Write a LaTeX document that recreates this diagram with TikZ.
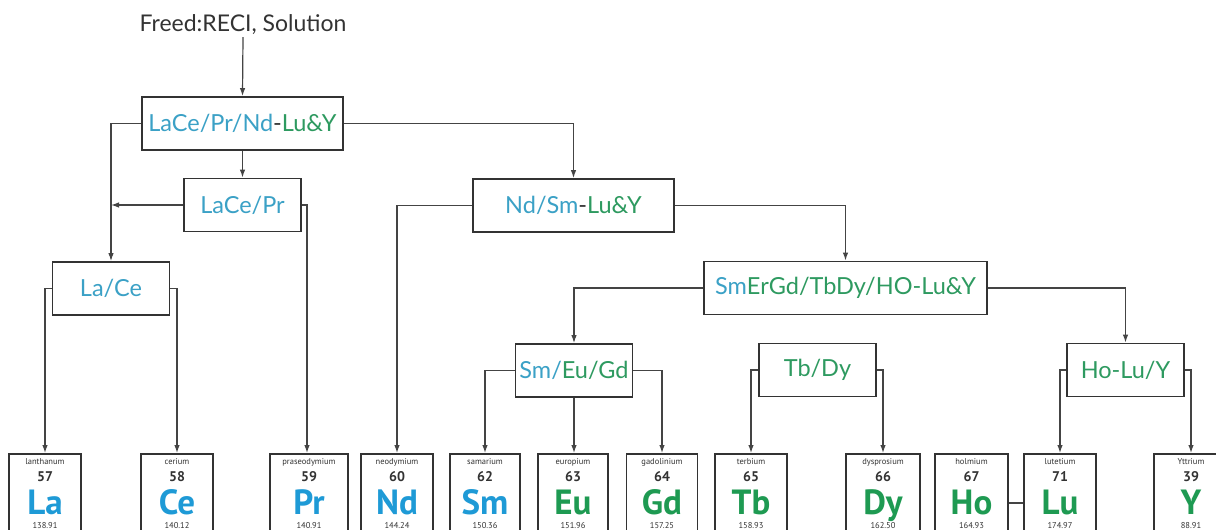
\documentclass[tikz,border=0pt]{standalone}
\usepackage{fontspec}
\setmainfont{Lato}
\newfontfamily\elfont{PT Sans}
\usetikzlibrary{arrows.meta}
\definecolor{eblue}{HTML}{1E9AD6}
\definecolor{egreen}{HTML}{1E9A52}
\definecolor{lblue}{HTML}{3BA1C6}
\definecolor{lgreen}{HTML}{2E9A60}
\definecolor{edge}{HTML}{333333}
\definecolor{wire}{HTML}{444444}
\newcommand\elem[8]{%
  \node[elbox,minimum width=#3pt] (#1) at (#2,453) {};
  \node[elname] at ([yshift=-9pt]#1.north) {#4};
  \node[elnum] at ([yshift=-24pt]#1.north) {#5};
  \node[elsym,text=#8] at ([yshift=-61pt]#1.north) {#6};
  \node[elwt] at ([yshift=-72.5pt]#1.north) {#7};
}
\begin{document}
\begin{tikzpicture}[x=1pt,y=-1pt,
  conn/.style={draw=wire,line width=1.2pt},
  arr/.style={conn,-{Latex[length=8pt,width=5.5pt]}},
  sepbox/.style={draw=edge,line width=1.8pt,fill=white,inner sep=0pt,minimum height=53pt,font=\fontsize{23.5}{26}\selectfont},
  smallbox/.style={sepbox,minimum width=117pt},
  elbox/.style={draw=edge,line width=1.8pt,minimum height=100pt,anchor=north,inner sep=0pt},
  elname/.style={inner sep=0pt,text=edge,font=\elfont\fontsize{8.5}{9}\selectfont},
  elnum/.style={inner sep=0pt,text=edge,font=\elfont\bfseries\fontsize{14}{15}\selectfont},
  elsym/.style={inner sep=0pt,anchor=base,font=\elfont\bfseries\fontsize{35}{38}\selectfont},
  elwt/.style={inner sep=0pt,text=edge,font=\elfont\fontsize{8.5}{9}\selectfont},
 ]
\useasboundingbox (0,0) rectangle (1216,530);
\clip (0,0) rectangle (1216,530);
\fill[white] (0,0) rectangle (1216,530);

% title and separation boxes
\node[inner sep=2pt,text=edge,font=\fontsize{23}{26}\selectfont] (feed) at (243,25) {Freed:RECI, Solution};
\node[sepbox,minimum width=201pt] (b1) at (242.5,123.5) {\textcolor{lblue}{LaCe/Pr/Nd}\textcolor{edge}{-}\textcolor{lgreen}{Lu\&Y}};
\node[smallbox] (lacepr) at (242.5,205) {\textcolor{lblue}{LaCe/Pr}};
\node[smallbox] (lace) at (111,288.5) {\textcolor{lblue}{La/Ce}};
\node[sepbox,minimum width=201pt] (ndsm) at (573.5,205.5) {\textcolor{lblue}{Nd/Sm}\textcolor{edge}{-}\textcolor{lgreen}{Lu\&Y}};
\node[sepbox,minimum width=283pt] (smer) at (845.5,288) {\textcolor{lblue}{Sm}\textcolor{lgreen}{ErGd/TbDy/HO-Lu\&Y}};
\node[smallbox] (seg) at (574,370.5) {\textcolor{lblue}{Sm/}\textcolor{lgreen}{Eu/Gd}};
\node[smallbox] (tbdy) at (817.5,370) {\textcolor{lgreen}{Tb/Dy}};
\node[smallbox] (holuy) at (1125.5,370) {\textcolor{lgreen}{Ho-Lu/Y}};

% element boxes
\elem{la}{45}{72}{lanthanum}{57}{La}{138.91}{eblue}
\elem{ce}{177}{72}{cerium}{58}{Ce}{140.12}{eblue}
\elem{pr}{309}{78}{praseodymium}{59}{Pr}{140.91}{eblue}
\elem{nd}{397}{72}{neodymium}{60}{Nd}{144.24}{eblue}
\elem{sm}{485}{70}{samarium}{62}{Sm}{150.36}{eblue}
\elem{eu}{573}{70}{europium}{63}{Eu}{151.96}{egreen}
\elem{gd}{662}{71}{gadolinium}{64}{Gd}{157.25}{egreen}
\elem{tb}{751}{72}{terbium}{65}{Tb}{158.93}{egreen}
\elem{dy}{883}{74}{dysprosium}{66}{Dy}{162.50}{egreen}
\elem{ho}{971.5}{73}{holmium}{67}{Ho}{164.93}{egreen}
\elem{lu}{1060}{72}{lutetium}{71}{Lu}{174.97}{egreen}
\elem{y}{1191}{74}{Yttrium}{39}{Y}{88.91}{egreen}

% connectors
\draw[arr] (feed.south) -- (b1.north);
\draw[arr] (b1.west) -| (lace.north);
\draw[arr] (b1.south) -- (lacepr.north);
\draw[arr] (b1.east) -| (ndsm.north);
\draw[arr] (lacepr.west) -- (lacepr.west -| lace.north);
\draw[arr] (lacepr.east) -| ([xshift=-2pt]pr.north);
\draw[arr] (lace.west) -| (la.north);
\draw[arr] (lace.east) -| (ce.north);
\draw[arr] (ndsm.west) -| (nd.north);
\draw[arr] (ndsm.east) -| (smer.north);
\draw[arr] (smer.west) -| (seg.north);
\draw[arr] (smer.east) -| (holuy.north);
\draw[arr] (seg.west) -| (sm.north);
\draw[arr] (seg.south) -- (seg.south |- eu.north);
\draw[arr] (seg.east) -| (gd.north);
\draw[arr] (tbdy.west) -| (tb.north);
\draw[arr] (tbdy.east) -| (dy.north);
\draw[arr] (holuy.west) -| (lu.north);
\draw[arr] (holuy.east) -| (y.north);
\draw[conn] ([yshift=-50pt]ho.north east) -- ([yshift=-50pt]lu.north west);
\end{tikzpicture}
\end{document}
